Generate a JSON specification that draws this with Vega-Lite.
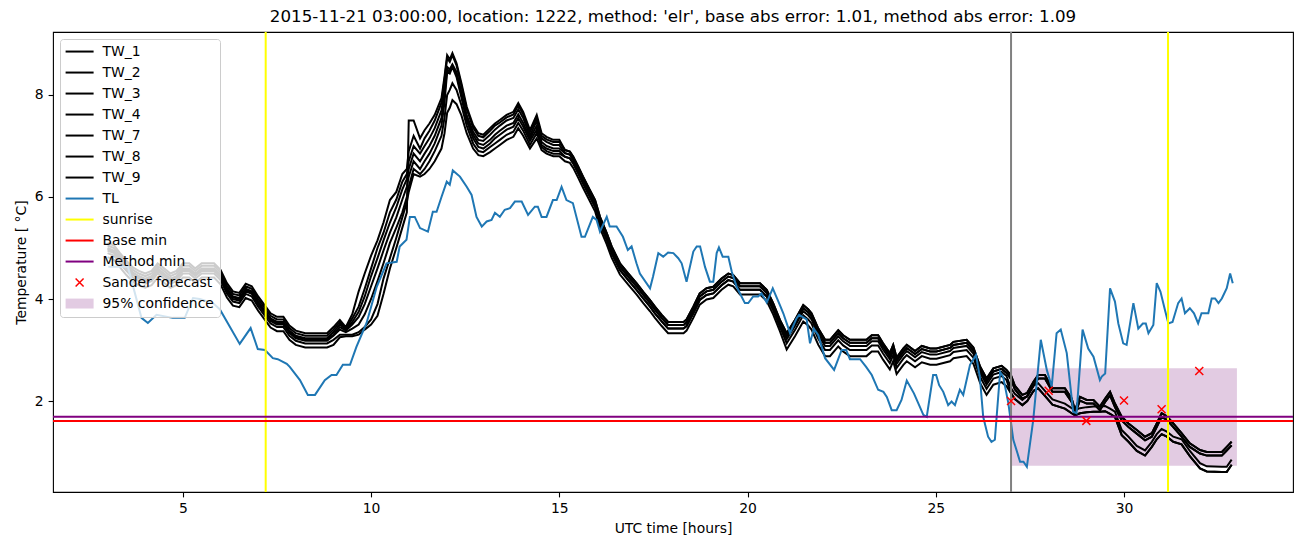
{
"$schema": "https://vega.github.io/schema/vega-lite/v6.json",
"width": 1240, "height": 460,
"autosize": {"type": "none"},
"padding": {"left": 53, "top": 32, "right": 9, "bottom": 55},
"background": "white",
"title": {"text": "2015-11-21 03:00:00, location: 1222, method: 'elr', base abs error: 1.01, method abs error: 1.09", "font": "DejaVu Sans", "fontSize": 16.7, "fontWeight": "normal", "color": "black", "anchor": "middle", "baseline": "bottom", "offset": 6, "dy": 18},
"config": {
 "view": {"stroke": "black", "strokeWidth": 1.1},
 "axis": {"domain": false, "grid": false, "labelFont": "DejaVu Sans", "labelFontSize": 13.9, "labelColor": "black", "tickColor": "black", "tickSize": 4.9, "tickWidth": 1.1, "labelPadding": 4.9, "titleFont": "DejaVu Sans", "titleFontSize": 13.9, "titleFontWeight": "normal", "titleColor": "black", "titlePadding": 5.6}
},
"datasets": {
"band": [{"hour":27,"end":33,"temp":0.73,"high":2.64}],
"sander": [{"hour":27,"temp":2.0},{"hour":28,"temp":2.2},{"hour":29,"temp":1.61},{"hour":30,"temp":2.01},{"hour":31,"temp":1.84},{"hour":32,"temp":2.59}],
"sunrise": [{"hour":7.2},{"hour":31.17}],
"basemin": [{"temp":1.61}],
"methodmin": [{"temp":1.69}],
"TW_1": [{"hour":3,"temp":5.1},{"hour":3.17,"temp":5.05},{"hour":3.33,"temp":4.9},{"hour":3.5,"temp":4.75},{"hour":3.67,"temp":4.62},{"hour":3.83,"temp":4.55},{"hour":4,"temp":4.5},{"hour":4.17,"temp":4.55},{"hour":4.33,"temp":4.7},{"hour":4.5,"temp":4.6},{"hour":4.67,"temp":4.5},{"hour":4.83,"temp":4.55},{"hour":5,"temp":4.7},{"hour":5.17,"temp":4.7},{"hour":5.33,"temp":4.6},{"hour":5.5,"temp":4.7},{"hour":5.67,"temp":4.7},{"hour":5.83,"temp":4.7},{"hour":6,"temp":4.57},{"hour":6.17,"temp":4.31},{"hour":6.33,"temp":4.15},{"hour":6.5,"temp":4.12},{"hour":6.67,"temp":4.3},{"hour":6.83,"temp":4.25},{"hour":7,"temp":4.05},{"hour":7.17,"temp":3.88},{"hour":7.33,"temp":3.72},{"hour":7.5,"temp":3.65},{"hour":7.67,"temp":3.65},{"hour":7.83,"temp":3.48},{"hour":8,"temp":3.38},{"hour":8.25,"temp":3.33},{"hour":8.5,"temp":3.33},{"hour":8.83,"temp":3.33},
{"hour":9,"temp":3.45},{"hour":9.17,"temp":3.59},{"hour":9.33,"temp":3.45},{"hour":9.5,"temp":3.7},{"hour":9.67,"temp":4.15},{"hour":9.83,"temp":4.5},{"hour":10,"temp":4.85},{"hour":10.17,"temp":5.15},{"hour":10.33,"temp":5.5},{"hour":10.5,"temp":5.94},{"hour":10.67,"temp":6.1},{"hour":10.83,"temp":6.45},{"hour":10.95,"temp":6.55},
{"hour":11,"temp":6.9},{"hour":11.13,"temp":7.2},{"hour":11.3,"temp":6.95},{"hour":11.42,"temp":7.15},{"hour":11.55,"temp":7.3},{"hour":11.69,"temp":7.5},{"hour":11.87,"temp":7.85},{"hour":11.95,"temp":8.3},{"hour":12.02,"temp":8.72},{"hour":12.09,"temp":8.65},{"hour":12.16,"temp":8.78},{"hour":12.27,"temp":8.58},{"hour":12.4,"temp":8.18},{"hour":12.54,"temp":7.72},{"hour":12.71,"temp":7.36},{"hour":12.85,"temp":7.2},{"hour":12.98,"temp":7.17},{"hour":13.16,"temp":7.3},{"hour":13.29,"temp":7.4},{"hour":13.42,"temp":7.46},{"hour":13.6,"temp":7.56},{"hour":13.78,"temp":7.62},{"hour":13.91,"temp":7.8},{"hour":14.04,"temp":7.62},{"hour":14.22,"temp":7.27},{"hour":14.4,"temp":7.56},{"hour":14.53,"temp":7.2},{"hour":14.66,"temp":7.13},{"hour":14.84,"temp":7.08},{"hour":15,"temp":7.08},
{"hour":15.15,"temp":6.92},{"hour":15.28,"temp":6.89},{"hour":15.37,"temp":6.79},{"hour":15.5,"temp":6.6},{"hour":15.63,"temp":6.4},{"hour":15.81,"temp":6.14},{"hour":15.95,"temp":5.94},{"hour":16.08,"temp":5.61},{"hour":16.26,"temp":5.29},{"hour":16.39,"temp":5.03},{"hour":16.61,"temp":4.7},{"hour":16.83,"temp":4.5},{"hour":17.05,"temp":4.31},{"hour":17.23,"temp":4.14},{"hour":17.41,"temp":3.98},{"hour":17.54,"temp":3.85},{"hour":17.72,"temp":3.69},{"hour":17.89,"temp":3.55},{"hour":18.3,"temp":3.55},{"hour":18.38,"temp":3.6},{"hour":18.56,"temp":3.85},{"hour":18.73,"temp":4.11},{"hour":18.91,"temp":4.21},{"hour":19.09,"temp":4.24},{"hour":19.31,"temp":4.4},{"hour":19.49,"temp":4.5},{"hour":19.62,"temp":4.47},{"hour":19.8,"temp":4.31},{"hour":20.33,"temp":4.31},{"hour":20.51,"temp":4.18},{"hour":20.68,"temp":3.92},{"hour":20.86,"temp":3.59},
{"hour":21.04,"temp":3.33},{"hour":21.26,"temp":3.59},{"hour":21.48,"temp":3.88},{"hour":21.61,"temp":3.8},{"hour":21.7,"temp":3.72},{"hour":21.88,"temp":3.42},{"hour":22.06,"temp":3.2},{"hour":22.19,"temp":3.2},{"hour":22.41,"temp":3.39},{"hour":22.54,"temp":3.29},{"hour":22.72,"temp":3.2},{"hour":23.16,"temp":3.2},{"hour":23.3,"temp":3.29},{"hour":23.47,"temp":3.29},{"hour":23.6,"temp":3.13},{"hour":23.78,"temp":2.94},{"hour":23.87,"temp":3.1},{"hour":23.96,"temp":2.85},{"hour":24.14,"temp":3.03},{"hour":24.23,"temp":3.1},{"hour":24.45,"temp":2.98},{"hour":24.63,"temp":3.08},{"hour":24.85,"temp":3.03},{"hour":25.02,"temp":3.03},{"hour":25.38,"temp":3.1},{"hour":25.47,"temp":3.16},{"hour":25.82,"temp":3.2},{"hour":26,"temp":3.05},{"hour":26.18,"temp":2.67},{"hour":26.35,"temp":2.44},{"hour":26.53,"temp":2.64},{"hour":26.75,"temp":2.69},{"hour":26.88,"temp":2.61},
{"hour":27,"temp":2.5},{"hour":27.1,"temp":2.3},{"hour":27.3,"temp":2.12},{"hour":27.43,"temp":2.16},{"hour":27.6,"temp":2.38},{"hour":27.72,"temp":2.51},{"hour":27.9,"temp":2.51},{"hour":28.1,"temp":2.25},{"hour":28.43,"temp":2.25},{"hour":28.61,"temp":2.05},{"hour":28.7,"temp":1.82},{"hour":28.83,"temp":2.08},{"hour":29.01,"temp":2.02},{"hour":29.19,"temp":2.02},{"hour":29.36,"temp":1.89},{"hour":29.5,"temp":2.05},{"hour":29.63,"temp":2.18},{"hour":29.76,"temp":1.95},{"hour":29.94,"temp":1.69},{"hour":30.12,"temp":1.56},{"hour":30.34,"temp":1.43},{"hour":30.56,"temp":1.3},{"hour":30.74,"temp":1.37},{"hour":30.87,"temp":1.56},{"hour":31,"temp":1.76},{"hour":31.14,"temp":1.7},{"hour":31.31,"temp":1.56},{"hour":31.53,"temp":1.37},{"hour":31.75,"temp":1.17},{"hour":32.02,"temp":1.04},{"hour":32.2,"temp":1.0},{"hour":32.6,"temp":1.0},{"hour":32.73,"temp":1.1},{"hour":32.86,"temp":1.2}],
"TW_2": [{"hour":3,"temp":5.05},{"hour":3.17,"temp":5.0},{"hour":3.33,"temp":4.85},{"hour":3.5,"temp":4.7},{"hour":3.67,"temp":4.57},{"hour":3.83,"temp":4.5},{"hour":4,"temp":4.45},{"hour":4.17,"temp":4.5},{"hour":4.33,"temp":4.65},{"hour":4.5,"temp":4.55},{"hour":4.67,"temp":4.45},{"hour":4.83,"temp":4.5},{"hour":5,"temp":4.65},{"hour":5.17,"temp":4.65},{"hour":5.33,"temp":4.55},{"hour":5.5,"temp":4.65},{"hour":5.67,"temp":4.65},{"hour":5.83,"temp":4.65},{"hour":6,"temp":4.52},{"hour":6.17,"temp":4.26},{"hour":6.33,"temp":4.1},{"hour":6.5,"temp":4.07},{"hour":6.67,"temp":4.25},{"hour":6.83,"temp":4.2},{"hour":7,"temp":4.0},{"hour":7.17,"temp":3.83},{"hour":7.33,"temp":3.67},{"hour":7.5,"temp":3.6},{"hour":7.67,"temp":3.6},{"hour":7.83,"temp":3.43},{"hour":8,"temp":3.33},{"hour":8.25,"temp":3.28},{"hour":8.5,"temp":3.28},{"hour":8.83,"temp":3.28},
{"hour":9,"temp":3.4},{"hour":9.17,"temp":3.55},{"hour":9.33,"temp":3.42},{"hour":9.5,"temp":3.62},{"hour":9.67,"temp":3.85},{"hour":9.83,"temp":4.2},{"hour":10,"temp":4.6},{"hour":10.17,"temp":5.0},{"hour":10.33,"temp":5.3},{"hour":10.5,"temp":5.7},{"hour":10.67,"temp":5.95},{"hour":10.83,"temp":6.3},{"hour":10.95,"temp":6.45},
{"hour":11,"temp":6.7},{"hour":11.13,"temp":7.0},{"hour":11.3,"temp":6.85},{"hour":11.42,"temp":7.0},{"hour":11.55,"temp":7.15},{"hour":11.69,"temp":7.35},{"hour":11.87,"temp":7.7},{"hour":11.95,"temp":8.1},{"hour":12.02,"temp":8.55},{"hour":12.09,"temp":8.5},{"hour":12.16,"temp":8.6},{"hour":12.27,"temp":8.45},{"hour":12.4,"temp":8.05},{"hour":12.54,"temp":7.6},{"hour":12.71,"temp":7.28},{"hour":12.85,"temp":7.12},{"hour":12.98,"temp":7.1},{"hour":13.16,"temp":7.22},{"hour":13.29,"temp":7.32},{"hour":13.42,"temp":7.4},{"hour":13.6,"temp":7.5},{"hour":13.78,"temp":7.55},{"hour":13.91,"temp":7.72},{"hour":14.04,"temp":7.55},{"hour":14.22,"temp":7.2},{"hour":14.4,"temp":7.5},{"hour":14.53,"temp":7.15},{"hour":14.66,"temp":7.08},{"hour":14.84,"temp":7.02},{"hour":15,"temp":7.02},
{"hour":15.15,"temp":6.86},{"hour":15.28,"temp":6.83},{"hour":15.37,"temp":6.73},{"hour":15.5,"temp":6.54},{"hour":15.63,"temp":6.34},{"hour":15.81,"temp":6.08},{"hour":15.95,"temp":5.88},{"hour":16.08,"temp":5.55},{"hour":16.26,"temp":5.23},{"hour":16.39,"temp":4.97},{"hour":16.61,"temp":4.64},{"hour":16.83,"temp":4.44},{"hour":17.05,"temp":4.25},{"hour":17.23,"temp":4.08},{"hour":17.41,"temp":3.92},{"hour":17.54,"temp":3.79},{"hour":17.72,"temp":3.63},{"hour":17.89,"temp":3.49},{"hour":18.3,"temp":3.49},{"hour":18.38,"temp":3.54},{"hour":18.56,"temp":3.79},{"hour":18.73,"temp":4.05},{"hour":18.91,"temp":4.15},{"hour":19.09,"temp":4.18},{"hour":19.31,"temp":4.34},{"hour":19.49,"temp":4.44},{"hour":19.62,"temp":4.41},{"hour":19.8,"temp":4.25},{"hour":20.33,"temp":4.25},{"hour":20.51,"temp":4.12},{"hour":20.68,"temp":3.86},{"hour":20.86,"temp":3.53},
{"hour":21.04,"temp":3.27},{"hour":21.26,"temp":3.53},{"hour":21.48,"temp":3.82},{"hour":21.61,"temp":3.74},{"hour":21.7,"temp":3.66},{"hour":21.88,"temp":3.36},{"hour":22.06,"temp":3.14},{"hour":22.19,"temp":3.14},{"hour":22.41,"temp":3.33},{"hour":22.54,"temp":3.23},{"hour":22.72,"temp":3.14},{"hour":23.16,"temp":3.14},{"hour":23.3,"temp":3.23},{"hour":23.47,"temp":3.23},{"hour":23.6,"temp":3.07},{"hour":23.78,"temp":2.88},{"hour":23.87,"temp":3.04},{"hour":23.96,"temp":2.79},{"hour":24.14,"temp":2.97},{"hour":24.23,"temp":3.04},{"hour":24.45,"temp":2.92},{"hour":24.63,"temp":3.02},{"hour":24.85,"temp":2.97},{"hour":25.02,"temp":2.97},{"hour":25.38,"temp":3.04},{"hour":25.47,"temp":3.1},{"hour":25.82,"temp":3.14},{"hour":26,"temp":2.99},{"hour":26.18,"temp":2.61},{"hour":26.35,"temp":2.38},{"hour":26.53,"temp":2.58},{"hour":26.75,"temp":2.63},{"hour":26.88,"temp":2.55},
{"hour":27,"temp":2.43},{"hour":27.1,"temp":2.23},{"hour":27.3,"temp":2.05},{"hour":27.43,"temp":2.09},{"hour":27.6,"temp":2.31},{"hour":27.72,"temp":2.44},{"hour":27.9,"temp":2.44},{"hour":28.1,"temp":2.18},{"hour":28.43,"temp":2.18},{"hour":28.61,"temp":1.98},{"hour":28.7,"temp":1.75},{"hour":28.83,"temp":2.01},{"hour":29.01,"temp":1.95},{"hour":29.19,"temp":1.95},{"hour":29.36,"temp":1.82},{"hour":29.5,"temp":1.98},{"hour":29.63,"temp":2.11},{"hour":29.76,"temp":1.88},{"hour":29.94,"temp":1.62},{"hour":30.12,"temp":1.49},{"hour":30.34,"temp":1.36},{"hour":30.56,"temp":1.23},{"hour":30.74,"temp":1.3},{"hour":30.87,"temp":1.49},{"hour":31,"temp":1.69},{"hour":31.14,"temp":1.63},{"hour":31.31,"temp":1.49},{"hour":31.53,"temp":1.3},{"hour":31.75,"temp":1.1},{"hour":32.02,"temp":0.97},{"hour":32.2,"temp":0.93},{"hour":32.6,"temp":0.93},{"hour":32.73,"temp":1.03},{"hour":32.86,"temp":1.13}],
"TW_3": [{"hour":3,"temp":5.0},{"hour":3.17,"temp":4.95},{"hour":3.33,"temp":4.8},{"hour":3.5,"temp":4.65},{"hour":3.67,"temp":4.52},{"hour":3.83,"temp":4.45},{"hour":4,"temp":4.4},{"hour":4.17,"temp":4.45},{"hour":4.33,"temp":4.6},{"hour":4.5,"temp":4.5},{"hour":4.67,"temp":4.4},{"hour":4.83,"temp":4.45},{"hour":5,"temp":4.6},{"hour":5.17,"temp":4.6},{"hour":5.33,"temp":4.5},{"hour":5.5,"temp":4.6},{"hour":5.67,"temp":4.6},{"hour":5.83,"temp":4.6},{"hour":6,"temp":4.47},{"hour":6.17,"temp":4.21},{"hour":6.33,"temp":4.05},{"hour":6.5,"temp":4.02},{"hour":6.67,"temp":4.2},{"hour":6.83,"temp":4.15},{"hour":7,"temp":3.95},{"hour":7.17,"temp":3.78},{"hour":7.33,"temp":3.62},{"hour":7.5,"temp":3.55},{"hour":7.67,"temp":3.55},{"hour":7.83,"temp":3.38},{"hour":8,"temp":3.28},{"hour":8.25,"temp":3.23},{"hour":8.5,"temp":3.23},{"hour":8.83,"temp":3.23},
{"hour":9,"temp":3.35},{"hour":9.17,"temp":3.5},{"hour":9.33,"temp":3.4},{"hour":9.5,"temp":3.55},{"hour":9.67,"temp":3.75},{"hour":9.83,"temp":4.05},{"hour":10,"temp":4.45},{"hour":10.17,"temp":4.8},{"hour":10.33,"temp":5.15},{"hour":10.5,"temp":5.5},{"hour":10.67,"temp":5.8},{"hour":10.83,"temp":6.15},{"hour":10.95,"temp":6.35},
{"hour":11,"temp":6.55},{"hour":11.13,"temp":6.85},{"hour":11.3,"temp":6.7},{"hour":11.42,"temp":6.85},{"hour":11.55,"temp":7.0},{"hour":11.69,"temp":7.2},{"hour":11.87,"temp":7.55},{"hour":11.95,"temp":8.0},{"hour":12.02,"temp":8.5},{"hour":12.09,"temp":8.45},{"hour":12.16,"temp":8.58},{"hour":12.27,"temp":8.4},{"hour":12.4,"temp":8.0},{"hour":12.54,"temp":7.55},{"hour":12.71,"temp":7.22},{"hour":12.85,"temp":7.05},{"hour":12.98,"temp":7.02},{"hour":13.16,"temp":7.12},{"hour":13.29,"temp":7.22},{"hour":13.42,"temp":7.3},{"hour":13.6,"temp":7.4},{"hour":13.78,"temp":7.45},{"hour":13.91,"temp":7.62},{"hour":14.04,"temp":7.45},{"hour":14.22,"temp":7.15},{"hour":14.4,"temp":7.4},{"hour":14.53,"temp":7.08},{"hour":14.66,"temp":7.0},{"hour":14.84,"temp":6.95},{"hour":15,"temp":6.95},
{"hour":15.15,"temp":6.86},{"hour":15.28,"temp":6.83},{"hour":15.37,"temp":6.73},{"hour":15.5,"temp":6.54},{"hour":15.63,"temp":6.34},{"hour":15.81,"temp":6.08},{"hour":15.95,"temp":5.88},{"hour":16.08,"temp":5.55},{"hour":16.26,"temp":5.23},{"hour":16.39,"temp":4.97},{"hour":16.61,"temp":4.64},{"hour":16.83,"temp":4.44},{"hour":17.05,"temp":4.25},{"hour":17.23,"temp":4.08},{"hour":17.41,"temp":3.92},{"hour":17.54,"temp":3.79},{"hour":17.72,"temp":3.63},{"hour":17.89,"temp":3.49},{"hour":18.3,"temp":3.49},{"hour":18.38,"temp":3.54},{"hour":18.56,"temp":3.79},{"hour":18.73,"temp":4.05},{"hour":18.91,"temp":4.15},{"hour":19.09,"temp":4.18},{"hour":19.31,"temp":4.34},{"hour":19.49,"temp":4.44},{"hour":19.62,"temp":4.41},{"hour":19.8,"temp":4.25},{"hour":20.33,"temp":4.25},{"hour":20.51,"temp":4.12},{"hour":20.68,"temp":3.86},{"hour":20.86,"temp":3.53},
{"hour":21.04,"temp":3.27},{"hour":21.26,"temp":3.53},{"hour":21.48,"temp":3.82},{"hour":21.61,"temp":3.74},{"hour":21.7,"temp":3.66},{"hour":21.88,"temp":3.36},{"hour":22.06,"temp":3.14},{"hour":22.19,"temp":3.14},{"hour":22.41,"temp":3.33},{"hour":22.54,"temp":3.23},{"hour":22.72,"temp":3.14},{"hour":23.16,"temp":3.14},{"hour":23.3,"temp":3.23},{"hour":23.47,"temp":3.23},{"hour":23.6,"temp":3.07},{"hour":23.78,"temp":2.88},{"hour":23.87,"temp":3.04},{"hour":23.96,"temp":2.79},{"hour":24.14,"temp":2.97},{"hour":24.23,"temp":3.04},{"hour":24.45,"temp":2.92},{"hour":24.63,"temp":3.02},{"hour":24.85,"temp":2.97},{"hour":25.02,"temp":2.97},{"hour":25.38,"temp":3.04},{"hour":25.47,"temp":3.1},{"hour":25.82,"temp":3.14},{"hour":26,"temp":2.99},{"hour":26.18,"temp":2.61},{"hour":26.35,"temp":2.38},{"hour":26.53,"temp":2.58},{"hour":26.75,"temp":2.63},{"hour":26.88,"temp":2.55},
{"hour":27,"temp":2.43},{"hour":27.1,"temp":2.23},{"hour":27.3,"temp":2.05},{"hour":27.43,"temp":2.09},{"hour":27.6,"temp":2.31},{"hour":27.72,"temp":2.44},{"hour":27.9,"temp":2.44},{"hour":28.1,"temp":2.18},{"hour":28.43,"temp":2.18},{"hour":28.61,"temp":1.98},{"hour":28.7,"temp":1.75},{"hour":28.83,"temp":2.01},{"hour":29.01,"temp":1.95},{"hour":29.19,"temp":1.95},{"hour":29.36,"temp":1.82},{"hour":29.5,"temp":1.98},{"hour":29.63,"temp":2.11},{"hour":29.76,"temp":1.88},{"hour":29.94,"temp":1.62},{"hour":30.12,"temp":1.49},{"hour":30.34,"temp":1.36},{"hour":30.56,"temp":1.23},{"hour":30.74,"temp":1.3},{"hour":30.87,"temp":1.49},{"hour":31,"temp":1.69},{"hour":31.14,"temp":1.63},{"hour":31.31,"temp":1.49},{"hour":31.53,"temp":1.3},{"hour":31.75,"temp":1.1},{"hour":32.02,"temp":0.97},{"hour":32.2,"temp":0.93},{"hour":32.6,"temp":0.93},{"hour":32.73,"temp":1.03},{"hour":32.86,"temp":1.13}],
"TW_4": [{"hour":3,"temp":4.98},{"hour":3.17,"temp":4.93},{"hour":3.33,"temp":4.78},{"hour":3.5,"temp":4.63},{"hour":3.67,"temp":4.5},{"hour":3.83,"temp":4.43},{"hour":4,"temp":4.38},{"hour":4.17,"temp":4.43},{"hour":4.33,"temp":4.58},{"hour":4.5,"temp":4.48},{"hour":4.67,"temp":4.38},{"hour":4.83,"temp":4.43},{"hour":5,"temp":4.58},{"hour":5.17,"temp":4.58},{"hour":5.33,"temp":4.48},{"hour":5.5,"temp":4.58},{"hour":5.67,"temp":4.58},{"hour":5.83,"temp":4.58},{"hour":6,"temp":4.45},{"hour":6.17,"temp":4.19},{"hour":6.33,"temp":4.03},{"hour":6.5,"temp":4.0},{"hour":6.67,"temp":4.18},{"hour":6.83,"temp":4.13},{"hour":7,"temp":3.93},{"hour":7.17,"temp":3.76},{"hour":7.33,"temp":3.6},{"hour":7.5,"temp":3.53},{"hour":7.67,"temp":3.53},{"hour":7.83,"temp":3.36},{"hour":8,"temp":3.26},{"hour":8.25,"temp":3.21},{"hour":8.5,"temp":3.21},{"hour":8.83,"temp":3.21},
{"hour":9,"temp":3.3},{"hour":9.17,"temp":3.45},{"hour":9.33,"temp":3.38},{"hour":9.5,"temp":3.5},{"hour":9.67,"temp":3.65},{"hour":9.83,"temp":3.9},{"hour":10,"temp":4.25},{"hour":10.17,"temp":4.6},{"hour":10.33,"temp":4.95},{"hour":10.5,"temp":5.3},{"hour":10.67,"temp":5.6},{"hour":10.83,"temp":5.95},{"hour":10.95,"temp":6.2},
{"hour":11,"temp":6.4},{"hour":11.13,"temp":6.7},{"hour":11.3,"temp":6.55},{"hour":11.42,"temp":6.7},{"hour":11.55,"temp":6.85},{"hour":11.69,"temp":7.05},{"hour":11.87,"temp":7.4},{"hour":11.95,"temp":7.85},{"hour":12.02,"temp":8.45},{"hour":12.09,"temp":8.42},{"hour":12.16,"temp":8.55},{"hour":12.27,"temp":8.35},{"hour":12.4,"temp":7.95},{"hour":12.54,"temp":7.5},{"hour":12.71,"temp":7.15},{"hour":12.85,"temp":6.98},{"hour":12.98,"temp":6.95},{"hour":13.16,"temp":7.05},{"hour":13.29,"temp":7.15},{"hour":13.42,"temp":7.22},{"hour":13.6,"temp":7.32},{"hour":13.78,"temp":7.38},{"hour":13.91,"temp":7.55},{"hour":14.04,"temp":7.38},{"hour":14.22,"temp":7.1},{"hour":14.4,"temp":7.32},{"hour":14.53,"temp":7.02},{"hour":14.66,"temp":6.95},{"hour":14.84,"temp":6.9},{"hour":15,"temp":6.9},
{"hour":15.15,"temp":6.79},{"hour":15.28,"temp":6.76},{"hour":15.37,"temp":6.66},{"hour":15.5,"temp":6.47},{"hour":15.63,"temp":6.27},{"hour":15.81,"temp":6.01},{"hour":15.95,"temp":5.81},{"hour":16.08,"temp":5.48},{"hour":16.26,"temp":5.16},{"hour":16.39,"temp":4.9},{"hour":16.61,"temp":4.57},{"hour":16.83,"temp":4.37},{"hour":17.05,"temp":4.18},{"hour":17.23,"temp":4.01},{"hour":17.41,"temp":3.85},{"hour":17.54,"temp":3.72},{"hour":17.72,"temp":3.56},{"hour":17.89,"temp":3.42},{"hour":18.3,"temp":3.42},{"hour":18.38,"temp":3.47},{"hour":18.56,"temp":3.72},{"hour":18.73,"temp":3.98},{"hour":18.91,"temp":4.08},{"hour":19.09,"temp":4.11},{"hour":19.31,"temp":4.27},{"hour":19.49,"temp":4.37},{"hour":19.62,"temp":4.34},{"hour":19.8,"temp":4.18},{"hour":20.33,"temp":4.18},{"hour":20.51,"temp":4.05},{"hour":20.68,"temp":3.79},{"hour":20.86,"temp":3.46},
{"hour":21.04,"temp":3.21},{"hour":21.26,"temp":3.47},{"hour":21.48,"temp":3.76},{"hour":21.61,"temp":3.68},{"hour":21.7,"temp":3.6},{"hour":21.88,"temp":3.3},{"hour":22.06,"temp":3.08},{"hour":22.19,"temp":3.08},{"hour":22.41,"temp":3.27},{"hour":22.54,"temp":3.17},{"hour":22.72,"temp":3.08},{"hour":23.16,"temp":3.08},{"hour":23.3,"temp":3.17},{"hour":23.47,"temp":3.17},{"hour":23.6,"temp":3.01},{"hour":23.78,"temp":2.82},{"hour":23.87,"temp":2.98},{"hour":23.96,"temp":2.73},{"hour":24.14,"temp":2.91},{"hour":24.23,"temp":2.98},{"hour":24.45,"temp":2.86},{"hour":24.63,"temp":2.96},{"hour":24.85,"temp":2.91},{"hour":25.02,"temp":2.91},{"hour":25.38,"temp":2.98},{"hour":25.47,"temp":3.04},{"hour":25.82,"temp":3.08},{"hour":26,"temp":2.93},{"hour":26.18,"temp":2.55},{"hour":26.35,"temp":2.32},{"hour":26.53,"temp":2.52},{"hour":26.75,"temp":2.57},{"hour":26.88,"temp":2.49},
{"hour":27,"temp":2.25},{"hour":27.1,"temp":2.14},{"hour":27.3,"temp":2.02},{"hour":27.43,"temp":2.1},{"hour":27.6,"temp":2.3},{"hour":27.72,"temp":2.35},{"hour":27.9,"temp":2.2},{"hour":28.1,"temp":2.03},{"hour":28.43,"temp":1.95},{"hour":28.61,"temp":1.86},{"hour":28.7,"temp":1.82},{"hour":28.83,"temp":1.86},{"hour":29.01,"temp":1.88},{"hour":29.19,"temp":1.89},{"hour":29.36,"temp":1.89},{"hour":29.5,"temp":1.9},{"hour":29.63,"temp":1.85},{"hour":29.76,"temp":1.79},{"hour":29.94,"temp":1.43},{"hour":30.12,"temp":1.3},{"hour":30.34,"temp":1.12},{"hour":30.56,"temp":1.03},{"hour":30.74,"temp":1.2},{"hour":30.87,"temp":1.35},{"hour":31,"temp":1.45},{"hour":31.14,"temp":1.4},{"hour":31.31,"temp":1.3},{"hour":31.53,"temp":1.25},{"hour":31.75,"temp":1.02},{"hour":32.02,"temp":0.78},{"hour":32.2,"temp":0.72},{"hour":32.6,"temp":0.71},{"hour":32.73,"temp":0.71},{"hour":32.86,"temp":0.85}],
"TW_7": [{"hour":3,"temp":4.95},{"hour":3.17,"temp":4.9},{"hour":3.33,"temp":4.75},{"hour":3.5,"temp":4.6},{"hour":3.67,"temp":4.47},{"hour":3.83,"temp":4.4},{"hour":4,"temp":4.35},{"hour":4.17,"temp":4.4},{"hour":4.33,"temp":4.55},{"hour":4.5,"temp":4.45},{"hour":4.67,"temp":4.35},{"hour":4.83,"temp":4.4},{"hour":5,"temp":4.55},{"hour":5.17,"temp":4.55},{"hour":5.33,"temp":4.45},{"hour":5.5,"temp":4.55},{"hour":5.67,"temp":4.55},{"hour":5.83,"temp":4.55},{"hour":6,"temp":4.42},{"hour":6.17,"temp":4.16},{"hour":6.33,"temp":4.0},{"hour":6.5,"temp":3.97},{"hour":6.67,"temp":4.15},{"hour":6.83,"temp":4.1},{"hour":7,"temp":3.9},{"hour":7.17,"temp":3.73},{"hour":7.33,"temp":3.57},{"hour":7.5,"temp":3.5},{"hour":7.67,"temp":3.5},{"hour":7.83,"temp":3.33},{"hour":8,"temp":3.23},{"hour":8.25,"temp":3.18},{"hour":8.5,"temp":3.18},{"hour":8.83,"temp":3.18},
{"hour":9,"temp":3.28},{"hour":9.17,"temp":3.4},{"hour":9.33,"temp":3.35},{"hour":9.5,"temp":3.42},{"hour":9.67,"temp":3.5},{"hour":9.83,"temp":3.7},{"hour":10,"temp":4.0},{"hour":10.17,"temp":4.35},{"hour":10.33,"temp":4.7},{"hour":10.5,"temp":5.1},{"hour":10.67,"temp":5.4},{"hour":10.83,"temp":5.7},{"hour":10.95,"temp":6.0},
{"hour":11,"temp":6.2},{"hour":11.13,"temp":6.55},{"hour":11.3,"temp":6.45},{"hour":11.42,"temp":6.55},{"hour":11.55,"temp":6.7},{"hour":11.69,"temp":6.9},{"hour":11.87,"temp":7.2},{"hour":11.95,"temp":7.55},{"hour":12.02,"temp":8.0},{"hour":12.09,"temp":8.1},{"hour":12.16,"temp":8.23},{"hour":12.27,"temp":8.1},{"hour":12.4,"temp":7.8},{"hour":12.54,"temp":7.4},{"hour":12.71,"temp":7.05},{"hour":12.85,"temp":6.9},{"hour":12.98,"temp":6.88},{"hour":13.16,"temp":6.98},{"hour":13.29,"temp":7.05},{"hour":13.42,"temp":7.12},{"hour":13.6,"temp":7.22},{"hour":13.78,"temp":7.28},{"hour":13.91,"temp":7.45},{"hour":14.04,"temp":7.3},{"hour":14.22,"temp":7.02},{"hour":14.4,"temp":7.25},{"hour":14.53,"temp":6.98},{"hour":14.66,"temp":6.9},{"hour":14.84,"temp":6.85},{"hour":15,"temp":6.85},
{"hour":15.15,"temp":6.79},{"hour":15.28,"temp":6.76},{"hour":15.37,"temp":6.66},{"hour":15.5,"temp":6.47},{"hour":15.63,"temp":6.27},{"hour":15.81,"temp":6.01},{"hour":15.95,"temp":5.81},{"hour":16.08,"temp":5.48},{"hour":16.26,"temp":5.16},{"hour":16.39,"temp":4.9},{"hour":16.61,"temp":4.57},{"hour":16.83,"temp":4.37},{"hour":17.05,"temp":4.18},{"hour":17.23,"temp":4.01},{"hour":17.41,"temp":3.85},{"hour":17.54,"temp":3.72},{"hour":17.72,"temp":3.56},{"hour":17.89,"temp":3.42},{"hour":18.3,"temp":3.42},{"hour":18.38,"temp":3.47},{"hour":18.56,"temp":3.72},{"hour":18.73,"temp":3.98},{"hour":18.91,"temp":4.08},{"hour":19.09,"temp":4.11},{"hour":19.31,"temp":4.27},{"hour":19.49,"temp":4.37},{"hour":19.62,"temp":4.34},{"hour":19.8,"temp":4.18},{"hour":20.33,"temp":4.18},{"hour":20.51,"temp":4.05},{"hour":20.68,"temp":3.79},{"hour":20.86,"temp":3.46},
{"hour":21.04,"temp":3.13},{"hour":21.26,"temp":3.39},{"hour":21.48,"temp":3.68},{"hour":21.61,"temp":3.6},{"hour":21.7,"temp":3.52},{"hour":21.88,"temp":3.22},{"hour":22.06,"temp":3.0},{"hour":22.19,"temp":3.0},{"hour":22.41,"temp":3.19},{"hour":22.54,"temp":3.09},{"hour":22.72,"temp":3.0},{"hour":23.16,"temp":3.0},{"hour":23.3,"temp":3.09},{"hour":23.47,"temp":3.09},{"hour":23.6,"temp":2.93},{"hour":23.78,"temp":2.74},{"hour":23.87,"temp":2.9},{"hour":23.96,"temp":2.65},{"hour":24.14,"temp":2.83},{"hour":24.23,"temp":2.9},{"hour":24.45,"temp":2.78},{"hour":24.63,"temp":2.88},{"hour":24.85,"temp":2.83},{"hour":25.02,"temp":2.83},{"hour":25.38,"temp":2.9},{"hour":25.47,"temp":2.96},{"hour":25.82,"temp":3.0},{"hour":26,"temp":2.85},{"hour":26.18,"temp":2.47},{"hour":26.35,"temp":2.24},{"hour":26.53,"temp":2.44},{"hour":26.75,"temp":2.49},{"hour":26.88,"temp":2.41},
{"hour":27,"temp":2.15},{"hour":27.1,"temp":2.04},{"hour":27.3,"temp":1.92},{"hour":27.43,"temp":2.0},{"hour":27.6,"temp":2.2},{"hour":27.72,"temp":2.25},{"hour":27.9,"temp":2.1},{"hour":28.1,"temp":1.93},{"hour":28.43,"temp":1.85},{"hour":28.61,"temp":1.76},{"hour":28.7,"temp":1.72},{"hour":28.83,"temp":1.76},{"hour":29.01,"temp":1.78},{"hour":29.19,"temp":1.79},{"hour":29.36,"temp":1.79},{"hour":29.5,"temp":1.8},{"hour":29.63,"temp":1.75},{"hour":29.76,"temp":1.69},{"hour":29.94,"temp":1.33},{"hour":30.12,"temp":1.2},{"hour":30.34,"temp":1.02},{"hour":30.56,"temp":0.93},{"hour":30.74,"temp":1.1},{"hour":30.87,"temp":1.25},{"hour":31,"temp":1.35},{"hour":31.14,"temp":1.3},{"hour":31.31,"temp":1.2},{"hour":31.53,"temp":1.15},{"hour":31.75,"temp":0.92},{"hour":32.02,"temp":0.68},{"hour":32.2,"temp":0.62},{"hour":32.6,"temp":0.61},{"hour":32.73,"temp":0.61},{"hour":32.86,"temp":0.75}],
"TW_8": [{"hour":3,"temp":4.9},{"hour":3.17,"temp":4.85},{"hour":3.33,"temp":4.7},{"hour":3.5,"temp":4.55},{"hour":3.67,"temp":4.42},{"hour":3.83,"temp":4.35},{"hour":4,"temp":4.3},{"hour":4.17,"temp":4.35},{"hour":4.33,"temp":4.5},{"hour":4.5,"temp":4.4},{"hour":4.67,"temp":4.3},{"hour":4.83,"temp":4.35},{"hour":5,"temp":4.5},{"hour":5.17,"temp":4.5},{"hour":5.33,"temp":4.4},{"hour":5.5,"temp":4.5},{"hour":5.67,"temp":4.5},{"hour":5.83,"temp":4.5},{"hour":6,"temp":4.37},{"hour":6.17,"temp":4.11},{"hour":6.33,"temp":3.95},{"hour":6.5,"temp":3.92},{"hour":6.67,"temp":4.1},{"hour":6.83,"temp":4.05},{"hour":7,"temp":3.85},{"hour":7.17,"temp":3.68},{"hour":7.33,"temp":3.52},{"hour":7.5,"temp":3.45},{"hour":7.67,"temp":3.45},{"hour":7.83,"temp":3.28},{"hour":8,"temp":3.18},{"hour":8.25,"temp":3.13},{"hour":8.5,"temp":3.13},{"hour":8.83,"temp":3.13},
{"hour":9,"temp":3.2},{"hour":9.17,"temp":3.3},{"hour":9.33,"temp":3.3},{"hour":9.5,"temp":3.3},{"hour":9.67,"temp":3.35},{"hour":9.83,"temp":3.45},{"hour":10,"temp":3.6},{"hour":10.17,"temp":3.9},{"hour":10.33,"temp":4.4},{"hour":10.5,"temp":4.8},{"hour":10.67,"temp":5.2},{"hour":10.83,"temp":5.6},{"hour":10.95,"temp":5.9},
{"hour":11,"temp":6.1},{"hour":11.13,"temp":6.45},{"hour":11.3,"temp":6.4},{"hour":11.42,"temp":6.45},{"hour":11.55,"temp":6.55},{"hour":11.69,"temp":6.7},{"hour":11.87,"temp":6.95},{"hour":11.95,"temp":7.25},{"hour":12.02,"temp":7.65},{"hour":12.09,"temp":7.75},{"hour":12.16,"temp":7.9},{"hour":12.27,"temp":7.82},{"hour":12.4,"temp":7.6},{"hour":12.54,"temp":7.25},{"hour":12.71,"temp":6.95},{"hour":12.85,"temp":6.82},{"hour":12.98,"temp":6.8},{"hour":13.16,"temp":6.88},{"hour":13.29,"temp":6.95},{"hour":13.42,"temp":7.02},{"hour":13.6,"temp":7.12},{"hour":13.78,"temp":7.18},{"hour":13.91,"temp":7.35},{"hour":14.04,"temp":7.2},{"hour":14.22,"temp":6.95},{"hour":14.4,"temp":7.15},{"hour":14.53,"temp":6.92},{"hour":14.66,"temp":6.85},{"hour":14.84,"temp":6.8},{"hour":15,"temp":6.8},
{"hour":15.15,"temp":6.7},{"hour":15.28,"temp":6.67},{"hour":15.37,"temp":6.57},{"hour":15.5,"temp":6.38},{"hour":15.63,"temp":6.18},{"hour":15.81,"temp":5.92},{"hour":15.95,"temp":5.72},{"hour":16.08,"temp":5.39},{"hour":16.26,"temp":5.07},{"hour":16.39,"temp":4.81},{"hour":16.61,"temp":4.48},{"hour":16.83,"temp":4.28},{"hour":17.05,"temp":4.09},{"hour":17.23,"temp":3.92},{"hour":17.41,"temp":3.76},{"hour":17.54,"temp":3.63},{"hour":17.72,"temp":3.47},{"hour":17.89,"temp":3.33},{"hour":18.3,"temp":3.33},{"hour":18.38,"temp":3.38},{"hour":18.56,"temp":3.63},{"hour":18.73,"temp":3.89},{"hour":18.91,"temp":3.99},{"hour":19.09,"temp":4.02},{"hour":19.31,"temp":4.18},{"hour":19.49,"temp":4.28},{"hour":19.62,"temp":4.25},{"hour":19.8,"temp":4.09},{"hour":20.33,"temp":4.09},{"hour":20.51,"temp":3.96},{"hour":20.68,"temp":3.7},{"hour":20.86,"temp":3.37},
{"hour":21.04,"temp":3.01},{"hour":21.26,"temp":3.27},{"hour":21.48,"temp":3.56},{"hour":21.61,"temp":3.48},{"hour":21.7,"temp":3.4},{"hour":21.88,"temp":3.1},{"hour":22.06,"temp":2.88},{"hour":22.19,"temp":2.88},{"hour":22.41,"temp":3.07},{"hour":22.54,"temp":2.97},{"hour":22.72,"temp":2.88},{"hour":23.16,"temp":2.88},{"hour":23.3,"temp":2.97},{"hour":23.47,"temp":2.97},{"hour":23.6,"temp":2.81},{"hour":23.78,"temp":2.62},{"hour":23.87,"temp":2.78},{"hour":23.96,"temp":2.53},{"hour":24.14,"temp":2.71},{"hour":24.23,"temp":2.78},{"hour":24.45,"temp":2.66},{"hour":24.63,"temp":2.76},{"hour":24.85,"temp":2.71},{"hour":25.02,"temp":2.71},{"hour":25.38,"temp":2.78},{"hour":25.47,"temp":2.84},{"hour":25.82,"temp":2.88},{"hour":26,"temp":2.73},{"hour":26.18,"temp":2.35},{"hour":26.35,"temp":2.12},{"hour":26.53,"temp":2.32},{"hour":26.75,"temp":2.37},{"hour":26.88,"temp":2.29},
{"hour":27,"temp":2.15},{"hour":27.1,"temp":2.04},{"hour":27.3,"temp":1.92},{"hour":27.43,"temp":2.0},{"hour":27.6,"temp":2.2},{"hour":27.72,"temp":2.25},{"hour":27.9,"temp":2.1},{"hour":28.1,"temp":1.93},{"hour":28.43,"temp":1.85},{"hour":28.61,"temp":1.76},{"hour":28.7,"temp":1.72},{"hour":28.83,"temp":1.76},{"hour":29.01,"temp":1.78},{"hour":29.19,"temp":1.79},{"hour":29.36,"temp":1.79},{"hour":29.5,"temp":1.8},{"hour":29.63,"temp":1.75},{"hour":29.76,"temp":1.69},{"hour":29.94,"temp":1.33},{"hour":30.12,"temp":1.2},{"hour":30.34,"temp":1.02},{"hour":30.56,"temp":0.93},{"hour":30.74,"temp":1.1},{"hour":30.87,"temp":1.25},{"hour":31,"temp":1.35},{"hour":31.14,"temp":1.3},{"hour":31.31,"temp":1.2},{"hour":31.53,"temp":1.15},{"hour":31.75,"temp":0.92},{"hour":32.02,"temp":0.68},{"hour":32.2,"temp":0.62},{"hour":32.6,"temp":0.61},{"hour":32.73,"temp":0.61},{"hour":32.86,"temp":0.75}],
"TW_9": [{"hour":3,"temp":4.82},{"hour":3.17,"temp":4.77},{"hour":3.33,"temp":4.62},{"hour":3.5,"temp":4.47},{"hour":3.67,"temp":4.34},{"hour":3.83,"temp":4.27},{"hour":4,"temp":4.22},{"hour":4.17,"temp":4.27},{"hour":4.33,"temp":4.42},{"hour":4.5,"temp":4.32},{"hour":4.67,"temp":4.22},{"hour":4.83,"temp":4.27},{"hour":5,"temp":4.42},{"hour":5.17,"temp":4.42},{"hour":5.33,"temp":4.32},{"hour":5.5,"temp":4.42},{"hour":5.67,"temp":4.42},{"hour":5.83,"temp":4.42},{"hour":6,"temp":4.29},{"hour":6.17,"temp":4.03},{"hour":6.33,"temp":3.87},{"hour":6.5,"temp":3.84},{"hour":6.67,"temp":4.02},{"hour":6.83,"temp":3.97},{"hour":7,"temp":3.77},{"hour":7.17,"temp":3.6},{"hour":7.33,"temp":3.44},{"hour":7.5,"temp":3.37},{"hour":7.67,"temp":3.37},{"hour":7.83,"temp":3.2},{"hour":8,"temp":3.1},{"hour":8.25,"temp":3.05},{"hour":8.5,"temp":3.05},{"hour":8.83,"temp":3.05},
{"hour":9,"temp":3.1},{"hour":9.17,"temp":3.25},{"hour":9.33,"temp":3.27},{"hour":9.5,"temp":3.27},{"hour":9.67,"temp":3.3},{"hour":9.83,"temp":3.4},{"hour":10,"temp":3.5},{"hour":10.17,"temp":3.67},{"hour":10.33,"temp":4.1},{"hour":10.5,"temp":4.6},{"hour":10.67,"temp":5.0},{"hour":10.83,"temp":5.4},{"hour":10.95,"temp":5.7},
{"hour":11,"temp":7.5},{"hour":11.13,"temp":7.5},{"hour":11.3,"temp":7.15},{"hour":11.42,"temp":7.31},{"hour":11.55,"temp":7.44},{"hour":11.69,"temp":7.61},{"hour":11.87,"temp":7.94},{"hour":11.95,"temp":8.36},{"hour":12.02,"temp":8.78},{"hour":12.09,"temp":8.7},{"hour":12.16,"temp":8.82},{"hour":12.27,"temp":8.62},{"hour":12.4,"temp":8.23},{"hour":12.54,"temp":7.77},{"hour":12.71,"temp":7.41},{"hour":12.85,"temp":7.25},{"hour":12.98,"temp":7.22},{"hour":13.16,"temp":7.35},{"hour":13.29,"temp":7.44},{"hour":13.42,"temp":7.51},{"hour":13.6,"temp":7.61},{"hour":13.78,"temp":7.67},{"hour":13.91,"temp":7.84},{"hour":14.04,"temp":7.67},{"hour":14.22,"temp":7.31},{"hour":14.4,"temp":7.61},{"hour":14.53,"temp":7.25},{"hour":14.66,"temp":7.18},{"hour":14.84,"temp":7.12},{"hour":15,"temp":7.12},
{"hour":15.15,"temp":6.92},{"hour":15.28,"temp":6.89},{"hour":15.37,"temp":6.79},{"hour":15.5,"temp":6.6},{"hour":15.63,"temp":6.4},{"hour":15.81,"temp":6.14},{"hour":15.95,"temp":5.94},{"hour":16.08,"temp":5.61},{"hour":16.26,"temp":5.29},{"hour":16.39,"temp":5.03},{"hour":16.61,"temp":4.7},{"hour":16.83,"temp":4.5},{"hour":17.05,"temp":4.31},{"hour":17.23,"temp":4.14},{"hour":17.41,"temp":3.98},{"hour":17.54,"temp":3.85},{"hour":17.72,"temp":3.69},{"hour":17.89,"temp":3.55},{"hour":18.3,"temp":3.55},{"hour":18.38,"temp":3.6},{"hour":18.56,"temp":3.85},{"hour":18.73,"temp":4.11},{"hour":18.91,"temp":4.21},{"hour":19.09,"temp":4.24},{"hour":19.31,"temp":4.4},{"hour":19.49,"temp":4.5},{"hour":19.62,"temp":4.47},{"hour":19.8,"temp":4.31},{"hour":20.33,"temp":4.31},{"hour":20.51,"temp":4.18},{"hour":20.68,"temp":3.92},{"hour":20.86,"temp":3.59},
{"hour":21.04,"temp":3.33},{"hour":21.26,"temp":3.59},{"hour":21.48,"temp":3.88},{"hour":21.61,"temp":3.8},{"hour":21.7,"temp":3.72},{"hour":21.88,"temp":3.42},{"hour":22.06,"temp":3.2},{"hour":22.19,"temp":3.2},{"hour":22.41,"temp":3.39},{"hour":22.54,"temp":3.29},{"hour":22.72,"temp":3.2},{"hour":23.16,"temp":3.2},{"hour":23.3,"temp":3.29},{"hour":23.47,"temp":3.29},{"hour":23.6,"temp":3.13},{"hour":23.78,"temp":2.94},{"hour":23.87,"temp":3.1},{"hour":23.96,"temp":2.85},{"hour":24.14,"temp":3.03},{"hour":24.23,"temp":3.1},{"hour":24.45,"temp":2.98},{"hour":24.63,"temp":3.08},{"hour":24.85,"temp":3.03},{"hour":25.02,"temp":3.03},{"hour":25.38,"temp":3.1},{"hour":25.47,"temp":3.16},{"hour":25.82,"temp":3.2},{"hour":26,"temp":3.05},{"hour":26.18,"temp":2.67},{"hour":26.35,"temp":2.44},{"hour":26.53,"temp":2.64},{"hour":26.75,"temp":2.69},{"hour":26.88,"temp":2.61},
{"hour":27,"temp":2.5},{"hour":27.1,"temp":2.3},{"hour":27.3,"temp":2.12},{"hour":27.43,"temp":2.16},{"hour":27.6,"temp":2.38},{"hour":27.72,"temp":2.51},{"hour":27.9,"temp":2.51},{"hour":28.1,"temp":2.25},{"hour":28.43,"temp":2.25},{"hour":28.61,"temp":2.05},{"hour":28.7,"temp":1.82},{"hour":28.83,"temp":2.08},{"hour":29.01,"temp":2.02},{"hour":29.19,"temp":2.02},{"hour":29.36,"temp":1.89},{"hour":29.5,"temp":2.05},{"hour":29.63,"temp":2.18},{"hour":29.76,"temp":1.95},{"hour":29.94,"temp":1.69},{"hour":30.12,"temp":1.56},{"hour":30.34,"temp":1.43},{"hour":30.56,"temp":1.3},{"hour":30.74,"temp":1.37},{"hour":30.87,"temp":1.56},{"hour":31,"temp":1.76},{"hour":31.14,"temp":1.7},{"hour":31.31,"temp":1.56},{"hour":31.53,"temp":1.37},{"hour":31.75,"temp":1.17},{"hour":32.02,"temp":1.04},{"hour":32.2,"temp":1.0},{"hour":32.6,"temp":1.0},{"hour":32.73,"temp":1.1},{"hour":32.86,"temp":1.2}],
"TL": [{"hour":3.02,"temp":4.63},{"hour":3.54,"temp":4.63},{"hour":3.9,"temp":3.63},{"hour":4.07,"temp":3.53},{"hour":4.3,"temp":3.69},{"hour":4.73,"temp":3.63},{"hour":5.05,"temp":3.63},{"hour":5.27,"temp":4.02},{"hour":5.45,"temp":4.0},{"hour":5.8,"temp":3.92},{"hour":5.98,"temp":3.8},{"hour":6.51,"temp":3.12},{"hour":6.8,"temp":3.43},{"hour":6.99,"temp":3.02},{"hour":7.18,"temp":3.0},{"hour":7.39,"temp":2.84},{"hour":7.52,"temp":2.82},{"hour":7.76,"temp":2.73},{"hour":7.84,"temp":2.67},{"hour":8.11,"temp":2.41},{"hour":8.32,"temp":2.12},{"hour":8.51,"temp":2.12},{"hour":8.77,"temp":2.41},{"hour":8.95,"temp":2.51},{"hour":9.08,"temp":2.51},{"hour":9.25,"temp":2.71},{"hour":9.44,"temp":2.71},{"hour":9.61,"temp":3.06},{"hour":9.88,"temp":3.53},{"hour":10.15,"temp":4.24},{"hour":10.41,"temp":4.7},{"hour":10.68,"temp":4.73},{"hour":10.76,"temp":5.03},{"hour":10.94,"temp":5.16},{"hour":11.03,"temp":5.61},{"hour":11.16,"temp":5.61},{"hour":11.3,"temp":5.39},{"hour":11.51,"temp":5.32},{"hour":11.64,"temp":5.71},{"hour":11.74,"temp":5.71},{"hour":11.87,"temp":6.0},{"hour":12.01,"temp":6.3},{"hour":12.09,"temp":6.24},{"hour":12.17,"temp":6.52},{"hour":12.36,"temp":6.4},{"hour":12.54,"temp":6.2},{"hour":12.67,"temp":6.04},{"hour":12.8,"temp":5.61},{"hour":12.94,"temp":5.42},{"hour":13.07,"temp":5.52},{"hour":13.2,"temp":5.55},{"hour":13.29,"temp":5.69},{"hour":13.42,"temp":5.61},{"hour":13.55,"temp":5.75},{"hour":13.69,"temp":5.78},{"hour":13.82,"temp":5.91},{"hour":14.0,"temp":5.91},{"hour":14.17,"temp":5.65},{"hour":14.35,"temp":5.81},{"hour":14.43,"temp":5.81},{"hour":14.53,"temp":5.61},{"hour":14.66,"temp":5.61},{"hour":14.83,"temp":5.94},{"hour":14.93,"temp":5.94},{"hour":15.06,"temp":6.2},{"hour":15.19,"temp":5.94},{"hour":15.36,"temp":5.88},{"hour":15.59,"temp":5.22},{"hour":15.68,"temp":5.22},{"hour":15.89,"temp":5.61},{"hour":15.99,"temp":5.55},{"hour":16.08,"temp":5.32},{"hour":16.26,"temp":5.61},{"hour":16.34,"temp":5.42},{"hour":16.52,"temp":5.42},{"hour":16.69,"temp":5.22},{"hour":16.82,"temp":4.96},{"hour":16.92,"temp":5.03},{"hour":17.05,"temp":4.7},{"hour":17.14,"temp":4.5},{"hour":17.41,"temp":4.21},{"hour":17.49,"temp":4.44},{"hour":17.63,"temp":4.9},{"hour":17.76,"temp":4.83},{"hour":17.89,"temp":4.91},{"hour":18.03,"temp":4.9},{"hour":18.16,"temp":4.8},{"hour":18.25,"temp":4.7},{"hour":18.38,"temp":4.34},{"hour":18.56,"temp":4.93},{"hour":18.65,"temp":5.03},{"hour":18.74,"temp":5.03},{"hour":18.87,"temp":4.63},{"hour":19.0,"temp":4.34},{"hour":19.09,"temp":4.34},{"hour":19.18,"temp":4.9},{"hour":19.24,"temp":5.01},{"hour":19.34,"temp":4.83},{"hour":19.49,"temp":4.83},{"hour":19.58,"temp":4.54},{"hour":19.71,"temp":4.24},{"hour":19.84,"temp":4.05},{"hour":19.93,"temp":3.92},{"hour":20.02,"temp":3.92},{"hour":20.15,"temp":4.05},{"hour":20.28,"temp":4.05},{"hour":20.37,"temp":4.11},{"hour":20.51,"temp":3.93},{"hour":20.67,"temp":4.21},{"hour":20.86,"temp":3.88},{"hour":20.95,"temp":3.72},{"hour":21.13,"temp":3.33},{"hour":21.3,"temp":3.62},{"hour":21.37,"temp":3.69},{"hour":21.57,"temp":3.6},{"hour":21.66,"temp":3.13},{"hour":21.76,"temp":3.42},{"hour":21.88,"temp":3.29},{"hour":22.06,"temp":2.84},{"hour":22.3,"temp":2.61},{"hour":22.5,"temp":3.0},{"hour":22.62,"temp":3.0},{"hour":22.72,"temp":2.82},{"hour":22.99,"temp":2.82},{"hour":23.15,"temp":2.67},{"hour":23.3,"temp":2.51},{"hour":23.47,"temp":2.22},{"hour":23.61,"temp":2.18},{"hour":23.7,"temp":2.08},{"hour":23.83,"temp":1.82},{"hour":23.96,"temp":1.82},{"hour":24.09,"temp":2.02},{"hour":24.23,"temp":2.4},{"hour":24.42,"temp":2.15},{"hour":24.54,"temp":1.95},{"hour":24.67,"temp":1.73},{"hour":24.76,"temp":1.69},{"hour":24.93,"temp":2.51},{"hour":25.01,"temp":2.51},{"hour":25.09,"temp":2.31},{"hour":25.2,"temp":2.18},{"hour":25.33,"temp":1.92},{"hour":25.42,"temp":1.99},{"hour":25.51,"temp":1.92},{"hour":25.64,"temp":2.22},{"hour":25.73,"temp":2.12},{"hour":25.91,"temp":2.71},{"hour":26.07,"temp":2.9},{"hour":26.17,"temp":2.48},{"hour":26.26,"temp":1.69},{"hour":26.39,"temp":1.3},{"hour":26.48,"temp":1.2},{"hour":26.57,"temp":1.24},{"hour":26.71,"temp":2.57},{"hour":26.79,"temp":2.48},{"hour":26.93,"temp":1.95},{"hour":27.06,"temp":1.24},{"hour":27.24,"temp":0.81},{"hour":27.33,"temp":0.81},{"hour":27.42,"temp":0.71},{"hour":27.59,"temp":1.63},{"hour":27.79,"temp":3.2},{"hour":27.95,"temp":2.61},{"hour":28.08,"temp":2.28},{"hour":28.21,"temp":3.33},{"hour":28.32,"temp":3.4},{"hour":28.48,"temp":2.94},{"hour":28.65,"temp":1.79},{"hour":28.74,"temp":1.76},{"hour":28.9,"temp":3.4},{"hour":29.05,"temp":3.03},{"hour":29.19,"temp":2.87},{"hour":29.36,"temp":2.41},{"hour":29.41,"temp":2.48},{"hour":29.5,"temp":2.54},{"hour":29.63,"temp":4.21},{"hour":29.76,"temp":3.95},{"hour":29.85,"temp":3.52},{"hour":29.98,"temp":3.13},{"hour":30.07,"temp":3.1},{"hour":30.25,"temp":3.92},{"hour":30.38,"temp":3.42},{"hour":30.5,"temp":3.52},{"hour":30.58,"temp":3.52},{"hour":30.65,"temp":3.33},{"hour":30.78,"temp":3.49},{"hour":30.87,"temp":4.31},{"hour":30.97,"temp":4.14},{"hour":31.09,"temp":3.78},{"hour":31.18,"temp":3.52},{"hour":31.29,"temp":3.55},{"hour":31.44,"temp":3.92},{"hour":31.53,"temp":4.01},{"hour":31.62,"temp":3.72},{"hour":31.75,"temp":3.82},{"hour":31.86,"temp":3.72},{"hour":31.97,"temp":3.52},{"hour":32.06,"temp":3.72},{"hour":32.24,"temp":3.72},{"hour":32.33,"temp":4.01},{"hour":32.42,"temp":4.01},{"hour":32.51,"temp":3.92},{"hour":32.6,"temp":4.01},{"hour":32.73,"temp":4.21},{"hour":32.82,"temp":4.5},{"hour":32.89,"temp":4.31}]
},
"layer": [
 {"data": {"name": "band"}, "mark": {"type": "rect"},
  "encoding": {
   "x": {"field": "hour", "type": "quantitative", "scale": {"domain": [1.55, 34.49], "nice": false, "zero": false}, "axis": {"title": "UTC time [hours]", "values": [5,10,15,20,25,30]}},
   "x2": {"field": "end"},
   "y": {"field": "temp", "type": "quantitative", "scale": {"domain": [0.216, 9.235], "nice": false, "zero": false}, "axis": {"title": "Temperature [ °C]", "values": [2,4,6,8]}},
   "y2": {"field": "high"},
   "color": {"datum": "95% confidence", "type": "nominal", "title": null,
     "scale": {"domain": ["TW_1","TW_2","TW_3","TW_4","TW_7","TW_8","TW_9","TL","sunrise","Base min","Method min","Sander forecast","95% confidence"],
               "range": ["black","black","black","black","black","black","black","#1f77b4","yellow","red","purple","red","#e2cbe2"]},
     "legend": {"title": null, "orient": "top-left", "offset": 7, "padding": 5.6,
       "fillColor": "rgba(255,255,255,0.8)", "strokeColor": "#cccccc", "cornerRadius": 3,
       "labelFont": "DejaVu Sans", "labelFontSize": 13.9, "labelColor": "black", "labelOffset": 23, "rowPadding": 6,
       "symbolSize": 196, "symbolStrokeWidth": 2,
       "encode": {"symbols": {"update": {
         "shape": {"signal": "datum.value === 'Sander forecast' ? 'M1.43,-0.57L2.57,0.57M1.43,0.57L2.57,-0.57' : datum.value === '95% confidence' ? 'M0,-0.71L4,-0.71L4,0.71L0,0.71Z' : 'M0,0L4,0'"},
         "x": {"value": 0},
         "fill": {"scale": "color", "field": "value"},
         "stroke": {"scale": "color", "field": "value"},
         "strokeWidth": {"signal": "datum.value === 'Sander forecast' ? 1.5 : datum.value === '95% confidence' ? 0.01 : 2"},
         "opacity": {"value": 1}, "fillOpacity": {"value": 1}, "strokeOpacity": {"value": 1}
       }}}
     }}
  }},
 {"data": {"name": "TW_1"}, "mark": {"type": "line", "strokeWidth": 2}, "encoding": {"x": {"field": "hour", "type": "quantitative"}, "y": {"field": "temp", "type": "quantitative"}, "color": {"datum": "TW_1", "type": "nominal"}}},
 {"data": {"name": "TW_2"}, "mark": {"type": "line", "strokeWidth": 2}, "encoding": {"x": {"field": "hour", "type": "quantitative"}, "y": {"field": "temp", "type": "quantitative"}, "color": {"datum": "TW_2", "type": "nominal"}}},
 {"data": {"name": "TW_3"}, "mark": {"type": "line", "strokeWidth": 2}, "encoding": {"x": {"field": "hour", "type": "quantitative"}, "y": {"field": "temp", "type": "quantitative"}, "color": {"datum": "TW_3", "type": "nominal"}}},
 {"data": {"name": "TW_4"}, "mark": {"type": "line", "strokeWidth": 2}, "encoding": {"x": {"field": "hour", "type": "quantitative"}, "y": {"field": "temp", "type": "quantitative"}, "color": {"datum": "TW_4", "type": "nominal"}}},
 {"data": {"name": "TW_7"}, "mark": {"type": "line", "strokeWidth": 2}, "encoding": {"x": {"field": "hour", "type": "quantitative"}, "y": {"field": "temp", "type": "quantitative"}, "color": {"datum": "TW_7", "type": "nominal"}}},
 {"data": {"name": "TW_8"}, "mark": {"type": "line", "strokeWidth": 2}, "encoding": {"x": {"field": "hour", "type": "quantitative"}, "y": {"field": "temp", "type": "quantitative"}, "color": {"datum": "TW_8", "type": "nominal"}}},
 {"data": {"name": "TW_9"}, "mark": {"type": "line", "strokeWidth": 2}, "encoding": {"x": {"field": "hour", "type": "quantitative"}, "y": {"field": "temp", "type": "quantitative"}, "color": {"datum": "TW_9", "type": "nominal"}}},
 {"data": {"name": "TL"}, "mark": {"type": "line", "strokeWidth": 2}, "encoding": {"x": {"field": "hour", "type": "quantitative"}, "y": {"field": "temp", "type": "quantitative"}, "color": {"datum": "TL", "type": "nominal"}}},
 {"data": {"values": [{"hour": 27}]}, "mark": {"type": "rule", "color": "#808080", "strokeWidth": 2}, "encoding": {"x": {"field": "hour", "type": "quantitative"}}},
 {"data": {"name": "sunrise"}, "mark": {"type": "rule", "strokeWidth": 2}, "encoding": {"x": {"field": "hour", "type": "quantitative"}, "color": {"datum": "sunrise", "type": "nominal"}}},
 {"data": {"name": "basemin"}, "mark": {"type": "rule", "strokeWidth": 2}, "encoding": {"y": {"field": "temp", "type": "quantitative"}, "color": {"datum": "Base min", "type": "nominal"}}},
 {"data": {"name": "methodmin"}, "mark": {"type": "rule", "strokeWidth": 2}, "encoding": {"y": {"field": "temp", "type": "quantitative"}, "color": {"datum": "Method min", "type": "nominal"}}},
 {"data": {"name": "sander"}, "mark": {"type": "point", "shape": "M-1,-1L1,1M-1,1L1,-1", "size": 64, "strokeWidth": 1.5, "filled": false, "opacity": 1}, "encoding": {"x": {"field": "hour", "type": "quantitative"}, "y": {"field": "temp", "type": "quantitative"}, "color": {"datum": "Sander forecast", "type": "nominal"}}}
]
}
